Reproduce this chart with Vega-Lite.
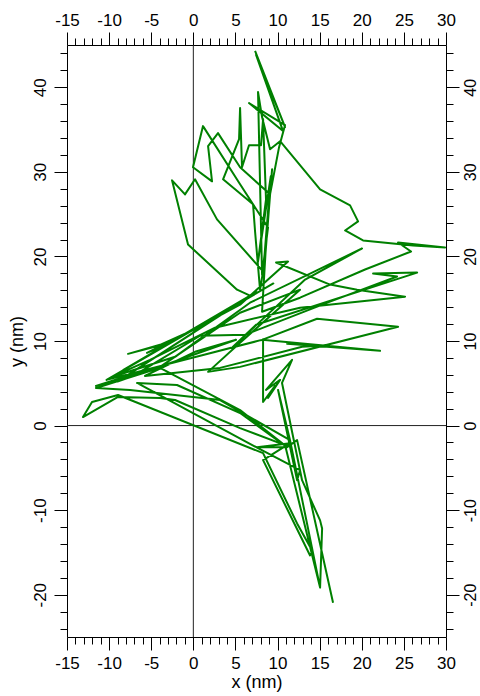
{
  "$schema": "https://vega.github.io/schema/vega-lite/v6.json",
  "width": 379,
  "height": 592,
  "autosize": {"type": "none"},
  "padding": {"left": 67, "top": 45, "right": 34, "bottom": 59},
  "config": {
    "view": {"stroke": null},
    "font": "Liberation Sans",
    "axis": {
      "grid": false,
      "domainColor": "#000000",
      "domainWidth": 1,
      "tickColor": "#000000",
      "tickWidth": 1,
      "labelColor": "#000000",
      "labelFont": "Liberation Sans",
      "labelFontSize": 17,
      "labelOverlap": false,
      "labelBound": false,
      "labelFlush": false,
      "titleFont": "Liberation Sans",
      "titleFontSize": 18,
      "titleFontWeight": "normal",
      "titleColor": "#000000"
    }
  },
  "datasets": {
    "track": [
      {"t": 1, "x": 7.33, "y": 44.31}, {"t": 2, "x": 10.89, "y": 35.29}, {"t": 3, "x": 7.45, "y": 43.83},
      {"t": 4, "x": 10.65, "y": 34.82}, {"t": 5, "x": 6.61, "y": 38.14}, {"t": 6, "x": 10.89, "y": 35.53},
      {"t": 7, "x": 10.18, "y": 32.92}, {"t": 8, "x": 9.11, "y": 27.34}, {"t": 9, "x": 5.55, "y": 30.55},
      {"t": 10, "x": 2.93, "y": 34.58}, {"t": 11, "x": 1.75, "y": 33.04}, {"t": 12, "x": 2.22, "y": 28.88},
      {"t": 13, "x": -0.04, "y": 30.55}, {"t": 14, "x": 1.15, "y": 35.41}, {"t": 15, "x": 5.55, "y": 28.53},
      {"t": 16, "x": 8.87, "y": 23.43}, {"t": 17, "x": 8.16, "y": 17.85}, {"t": 18, "x": 7.68, "y": 39.44},
      {"t": 19, "x": 8.16, "y": 36.48}, {"t": 20, "x": 9.11, "y": 32.68}, {"t": 21, "x": 10.30, "y": 33.63},
      {"t": 22, "x": 15.05, "y": 27.94}, {"t": 23, "x": 18.61, "y": 26.04}, {"t": 24, "x": 19.56, "y": 24.14},
      {"t": 25, "x": 18.02, "y": 23.07}, {"t": 26, "x": 20.15, "y": 21.89}, {"t": 27, "x": 26.09, "y": 21.29},
      {"t": 28, "x": 29.89, "y": 21.06}, {"t": 29, "x": 24.31, "y": 21.65}, {"t": 30, "x": 25.85, "y": 20.58},
      {"t": 31, "x": 20.39, "y": 18.45}, {"t": 32, "x": 12.67, "y": 15.12}, {"t": 33, "x": 8.16, "y": 13.46},
      {"t": 34, "x": 8.63, "y": 21.41}, {"t": 35, "x": 9.35, "y": 30.31}, {"t": 36, "x": 8.51, "y": 19.63},
      {"t": 37, "x": 7.92, "y": 16.07}, {"t": 38, "x": 7.33, "y": 22.95}, {"t": 39, "x": 7.09, "y": 26.16},
      {"t": 40, "x": 3.53, "y": 29.12}, {"t": 41, "x": 5.43, "y": 33.87}, {"t": 42, "x": 5.55, "y": 37.54},
      {"t": 43, "x": 5.78, "y": 30.55}, {"t": 44, "x": 6.61, "y": 33.15}, {"t": 45, "x": 8.04, "y": 33.15},
      {"t": 46, "x": 8.28, "y": 36.24}, {"t": 47, "x": 8.63, "y": 26.75}, {"t": 48, "x": 7.68, "y": 19.39},
      {"t": 49, "x": 9.2, "y": 29.5}, {"t": 50, "x": 8.3, "y": 18.2}, {"t": 51, "x": 2.81, "y": 24.38},
      {"t": 52, "x": 0.20, "y": 29.12}, {"t": 53, "x": -0.99, "y": 27.34}, {"t": 54, "x": -2.53, "y": 29.0},
      {"t": 55, "x": -0.63, "y": 21.41}, {"t": 56, "x": 5.19, "y": 16.07}, {"t": 57, "x": 6.73, "y": 15.36},
      {"t": 58, "x": 1.39, "y": 11.92}, {"t": 59, "x": -3.95, "y": 9.55}, {"t": 60, "x": -7.75, "y": 8.48},
      {"t": 61, "x": -2.77, "y": 9.79}, {"t": 62, "x": -5.50, "y": 8.60}, {"t": 63, "x": -0.04, "y": 11.33},
      {"t": 64, "x": 5.55, "y": 14.29}, {"t": 65, "x": 11.25, "y": 19.39}, {"t": 66, "x": 9.82, "y": 19.28},
      {"t": 67, "x": 16.23, "y": 16.67}, {"t": 68, "x": 19.44, "y": 16.07}, {"t": 69, "x": 25.14, "y": 15.24},
      {"t": 70, "x": 12.67, "y": 13.94}, {"t": 71, "x": 2.58, "y": 11.57}, {"t": 72, "x": -5.14, "y": 7.77},
      {"t": 73, "x": -9.66, "y": 5.75}, {"t": 74, "x": -2.17, "y": 8.13}, {"t": 75, "x": 6.73, "y": 14.53},
      {"t": 76, "x": 20.03, "y": 20.94}, {"t": 77, "x": 13.27, "y": 17.26}, {"t": 78, "x": 4.71, "y": 9.31},
      {"t": 79, "x": 7.45, "y": 11.92}, {"t": 80, "x": 26.57, "y": 18.09}, {"t": 81, "x": 21.34, "y": 17.97},
      {"t": 82, "x": 24.19, "y": 17.62}, {"t": 83, "x": 16.23, "y": 14.65}, {"t": 84, "x": 6.14, "y": 10.74},
      {"t": 85, "x": 0.80, "y": 10.62}, {"t": 86, "x": -6.33, "y": 6.35}, {"t": 87, "x": -11.56, "y": 4.69},
      {"t": 88, "x": -3.95, "y": 6.94}, {"t": 89, "x": 5.55, "y": 13.34}, {"t": 90, "x": 12.67, "y": 16.07},
      {"t": 91, "x": 5.55, "y": 9.79}, {"t": 92, "x": 1.75, "y": 6.35}, {"t": 93, "x": 5.55, "y": 6.94},
      {"t": 94, "x": 24.31, "y": 11.68}, {"t": 95, "x": 14.69, "y": 12.63}, {"t": 96, "x": 8.16, "y": 10.14},
      {"t": 97, "x": 22.17, "y": 8.84}, {"t": 98, "x": 11.13, "y": 9.67}, {"t": 99, "x": 15.05, "y": 9.43},
      {"t": 100, "x": 12.91, "y": 9.31}, {"t": 101, "x": 3.17, "y": 6.82}, {"t": 102, "x": -5.74, "y": 5.87},
      {"t": 103, "x": 0.20, "y": 8.72}, {"t": 104, "x": 5.07, "y": 10.14}, {"t": 105, "x": -9.0, "y": 5.2},
      {"t": 106, "x": 7.5, "y": 15.8}, {"t": 107, "x": -8.3, "y": 6.6}, {"t": 108, "x": 9.5, "y": 16.8},
      {"t": 109, "x": -10.3, "y": 5.4}, {"t": 110, "x": 8.0, "y": 10.1}, {"t": 111, "x": 8.28, "y": 10.14},
      {"t": 112, "x": 8.28, "y": 2.79}, {"t": 113, "x": 9.70, "y": 4.69}, {"t": 114, "x": 8.87, "y": 3.26},
      {"t": 115, "x": 10.30, "y": 5.40}, {"t": 116, "x": 8.63, "y": 4.21}, {"t": 117, "x": 11.72, "y": 7.77},
      {"t": 118, "x": 10.53, "y": 5.04}, {"t": 119, "x": 12.91, "y": -6.46}, {"t": 120, "x": 15.05, "y": -11.21},
      {"t": 121, "x": 15.29, "y": -12.16}, {"t": 122, "x": 15.05, "y": -19.16}, {"t": 123, "x": 11.48, "y": -1.72},
      {"t": 124, "x": 10.06, "y": 4.21}, {"t": 125, "x": 12.32, "y": -6.46}, {"t": 126, "x": 12.67, "y": -5.28},
      {"t": 127, "x": 7.68, "y": -2.67}, {"t": 128, "x": -6.69, "y": 5.04}, {"t": 129, "x": -1.94, "y": 4.80},
      {"t": 130, "x": 5.55, "y": 1.48}, {"t": 131, "x": 11.13, "y": -2.55}, {"t": 132, "x": 7.56, "y": -2.55},
      {"t": 133, "x": 11.48, "y": -2.08}, {"t": 134, "x": 8.28, "y": -4.09}, {"t": 135, "x": 13.86, "y": -15.36},
      {"t": 136, "x": 14.10, "y": -14.77}, {"t": 137, "x": 12.32, "y": -11.57}, {"t": 138, "x": 8.28, "y": -3.26},
      {"t": 139, "x": -8.94, "y": 3.62}, {"t": 140, "x": -12.03, "y": 2.79}, {"t": 141, "x": -13.10, "y": 1.01},
      {"t": 142, "x": -8.94, "y": 3.38}, {"t": 143, "x": -3.95, "y": 3.26}, {"t": 144, "x": -2.17, "y": 3.02},
      {"t": 145, "x": 5.55, "y": -0.30}, {"t": 146, "x": 10.89, "y": -2.31}, {"t": 147, "x": 15.05, "y": -19.16},
      {"t": 148, "x": 11.48, "y": -1.72}, {"t": 149, "x": 3.17, "y": 3.02}, {"t": 150, "x": -7.52, "y": 4.21},
      {"t": 151, "x": -11.56, "y": 4.45}, {"t": 152, "x": -3.95, "y": 6.82}, {"t": 153, "x": 5.55, "y": 1.84},
      {"t": 154, "x": 11.13, "y": -2.55}, {"t": 155, "x": 12.32, "y": -1.72}, {"t": 156, "x": 16.59, "y": -20.94}
    ]
  },
  "layer": [
    {
      "data": {"values": [{"x0": 0}]},
      "mark": {"type": "rule", "color": "#222222", "strokeWidth": 1},
      "encoding": {
        "x": {
          "field": "x0", "type": "quantitative",
          "scale": {"domain": [-15, 30], "nice": false, "zero": false},
          "axis": {
            "orient": "bottom",
            "title": "x (nm)",
            "titlePadding": 2,
            "values": [-15,-14,-13,-12,-11,-10,-9,-8,-7,-6,-5,-4,-3,-2,-1,0,1,2,3,4,5,6,7,8,9,10,11,12,13,14,15,16,17,18,19,20,21,22,23,24,25,26,27,28,29,30],
            "labelExpr": "datum.value % 5 === 0 ? '' + datum.value : ''",
            "tickSize": {"condition": {"test": "datum.value % 5 === 0", "value": 13}, "value": 7},
            "labelPadding": 5
          }
        }
      }
    },
    {
      "data": {"values": [{"y0": 0}]},
      "mark": {"type": "rule", "color": "#222222", "strokeWidth": 1},
      "encoding": {
        "y": {
          "field": "y0", "type": "quantitative",
          "scale": {"domain": [-25, 45], "nice": false, "zero": false},
          "axis": {
            "orient": "left",
            "title": "y (nm)",
            "titlePadding": 5,
            "values": [-24,-22,-20,-18,-16,-14,-12,-10,-8,-6,-4,-2,0,2,4,6,8,10,12,14,16,18,20,22,24,26,28,30,32,34,36,38,40,42,44],
            "labelExpr": "datum.value % 10 === 0 ? '' + datum.value : ''",
            "tickSize": {"condition": {"test": "datum.value % 10 === 0", "value": 13}, "value": 7},
            "labelAngle": -90,
            "labelPadding": 5
          }
        }
      }
    },
    {
      "data": {"name": "track"},
      "mark": {"type": "line", "color": "#008000", "strokeWidth": 2, "strokeJoin": "round"},
      "encoding": {
        "x": {
          "field": "x", "type": "quantitative",
          "scale": {"domain": [-15, 30], "nice": false, "zero": false},
          "axis": {
            "orient": "top",
            "title": null,
            "values": [-15,-14,-13,-12,-11,-10,-9,-8,-7,-6,-5,-4,-3,-2,-1,0,1,2,3,4,5,6,7,8,9,10,11,12,13,14,15,16,17,18,19,20,21,22,23,24,25,26,27,28,29,30],
            "labelExpr": "datum.value % 5 === 0 ? '' + datum.value : ''",
            "tickSize": {"condition": {"test": "datum.value % 5 === 0", "value": 13}, "value": 7},
            "labelPadding": 3
          }
        },
        "y": {
          "field": "y", "type": "quantitative",
          "scale": {"domain": [-25, 45], "nice": false, "zero": false},
          "axis": {
            "orient": "right",
            "title": null,
            "values": [-24,-22,-20,-18,-16,-14,-12,-10,-8,-6,-4,-2,0,2,4,6,8,10,12,14,16,18,20,22,24,26,28,30,32,34,36,38,40,42,44],
            "labelExpr": "datum.value % 10 === 0 ? '' + datum.value : ''",
            "tickSize": {"condition": {"test": "datum.value % 10 === 0", "value": 13}, "value": 7},
            "labelAngle": -90,
            "labelFontSize": 16,
            "labelPadding": 3
          }
        },
        "order": {"field": "t", "type": "quantitative"}
      }
    }
  ]
}
